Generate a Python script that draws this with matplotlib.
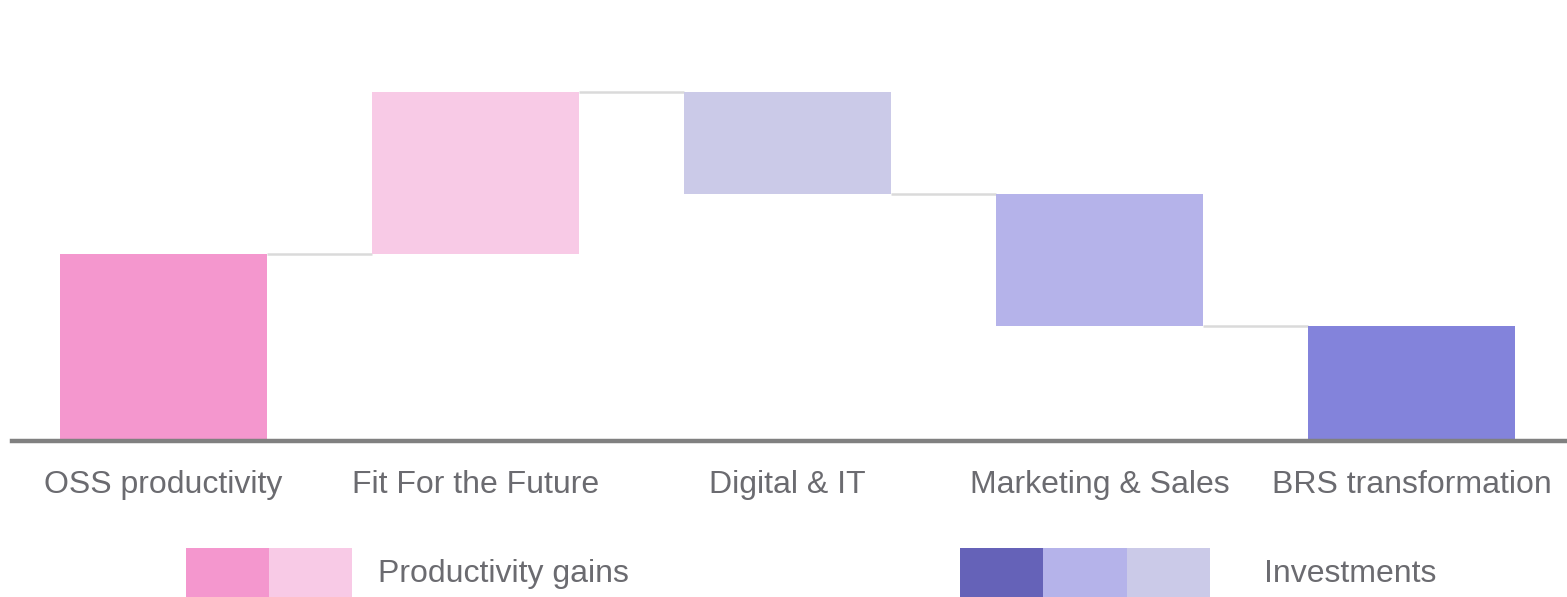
import matplotlib
matplotlib.use("Agg")
import matplotlib.pyplot as plt
from matplotlib.patches import Rectangle

plt.rcParams['font.family'] = ['Liberation Sans', 'DejaVu Sans']

categories = ["OSS productivity", "Fit For the Future", "Digital & IT", "Marketing & Sales", "BRS transformation"]
deltas = [1.87, 1.62, -1.02, -1.32]   # step changes
total = 1.15                          # final bar
bar_colors = ["#F497CE", "#F8CAE6", "#CBCAE8", "#B5B3EA", "#8383DB"]
legend_gain_colors = ["#F497CE", "#F8CAE6"]
legend_inv_colors = ["#6562B8", "#B5B3EA", "#CBCAE8"]
legend_labels = ["Productivity gains", "Investments"]

W, H = 1567, 597
fig = plt.figure(figsize=(W / 100, H / 100), dpi=100)

ax_left, ax_right, ax_bottom, ax_top = 12, 1567, 441, 20
ax = fig.add_axes([ax_left / W, (H - ax_bottom) / H, (ax_right - ax_left) / W, (ax_bottom - ax_top) / H])

# compute waterfall
bottoms, heights = [], []
level = 0.0
for d in deltas:
    if d >= 0:
        bottoms.append(level); heights.append(d)
    else:
        bottoms.append(level + d); heights.append(-d)
    level += d
bottoms.append(0.0); heights.append(total)

x = list(range(len(categories)))
width = 0.663
ax.bar(x, heights, bottom=bottoms, width=width, color=bar_colors, edgecolor="none", zorder=2)

# connectors
level = 0.0
levels = []
for d in deltas:
    level += d
    levels.append(level)
for i, lv in enumerate(levels):
    ax.plot([i + width / 2, i + 1 - width / 2], [lv, lv], color="#DADADA", lw=1.8, zorder=1, solid_capstyle="butt")

ax.set_xlim((ax_left - 163.5) / 312, (ax_right - 163.5) / 312)
ax.set_ylim(0, 4.21)
for s in ["top", "right", "left"]:
    ax.spines[s].set_visible(False)
ax.spines["bottom"].set_color("#808080")
ax.spines["bottom"].set_linewidth(3.2)
ax.set_yticks([])
ax.set_xticks(x)
ax.set_xticklabels(categories, fontsize=23, color="#6B6B70")
ax.tick_params(axis="x", length=0, pad=21)

# legend
def fig_rect(px_x0, px_x1, px_y0, px_y1, color):
    fig.add_artist(Rectangle((px_x0 / W, (H - px_y1) / H), (px_x1 - px_x0) / W, (px_y1 - px_y0) / H,
                             transform=fig.transFigure, color=color, lw=0))

for i, c in enumerate(legend_gain_colors):
    fig_rect(186 + 83 * i, 186 + 83 * (i + 1), 548, 597, c)
for i, c in enumerate(legend_inv_colors):
    fig_rect(960 + 83.3 * i, 960 + 83.3 * (i + 1), 548, 597, c)
fig.text(378 / W, (H - 574) / H, legend_labels[0], fontsize=23, color="#6B6B70", va="center", ha="left")
fig.text(1264 / W, (H - 574) / H, legend_labels[1], fontsize=23, color="#6B6B70", va="center", ha="left")

fig.savefig("out.png", dpi=100)
